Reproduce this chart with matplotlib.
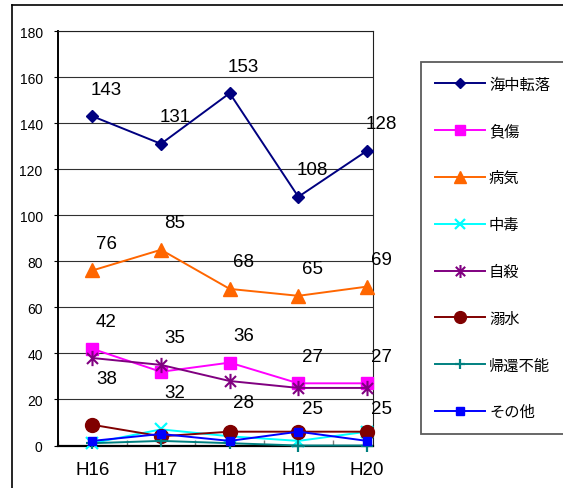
import matplotlib
matplotlib.use("Agg")
import matplotlib.pyplot as plt
from matplotlib.path import Path
from matplotlib.lines import Line2D

plt.rcParams['font.family'] = ['Liberation Sans', 'Noto Sans CJK JP', 'DejaVu Sans']

# ---- data ----
categories = ["H16", "H17", "H18", "H19", "H20"]
series_names = ["海中転落", "負傷", "病気", "中毒", "自殺", "溺水", "帰還不能", "その他"]
kaichu_tenraku = [143, 131, 153, 108, 128]
fusho = [42, 32, 36, 27, 27]
byoki = [76, 85, 68, 65, 69]
chudoku = [1, 7, 4, 2, 6]
jisatsu = [38, 35, 28, 25, 25]
dekisui = [9, 4, 6, 6, 6]
kikan_funo = [1, 2, 1, 0, 0]
sonota = [2, 5, 2, 6, 2]
y_ticks = [0, 20, 40, 60, 80, 100, 120, 140, 160, 180]

# ---- style ----
star = Path([(0, -1), (0, 1), (-0.72, -0.72), (0.72, 0.72), (-0.72, 0.72), (0.72, -0.72)],
            [Path.MOVETO, Path.LINETO, Path.MOVETO, Path.LINETO, Path.MOVETO, Path.LINETO])
styles = [
    dict(color="#000080", marker="D", ms=6.5),
    dict(color="#FF00FF", marker="s", ms=9),
    dict(color="#FF6600", marker="^", ms=9.5),
    dict(color="#00FFFF", marker="x", ms=8.5, mew=1.6),
    dict(color="#800080", marker=star, ms=11, mfc="none", mew=1.5),
    dict(color="#800000", marker="o", ms=10),
    dict(color="#008080", marker="+", ms=9, mew=1.6),
    dict(color="#0000FF", marker="s", ms=6),
]
# label placement per labelled series: 1 = above, -1 = below
label_pos = {
    0: [1, 1, 1, 1, 1],
    2: [1, 1, 1, 1, 1],
    1: [1, -1, 1, 1, 1],
    4: [-1, 1, -1, -1, -1],
}

W, H = 563, 489
fig = plt.figure(figsize=(W / 100, H / 100), dpi=100)
ax = fig.add_axes([58 / W, 1 - 446.5 / H, (373 - 58) / W, (446.5 - 32) / H])

all_series = [kaichu_tenraku, fusho, byoki, chudoku, jisatsu, dekisui, kikan_funo, sonota]
x = list(range(len(categories)))
handles = []
for i, (name, vals, st) in enumerate(zip(series_names, all_series, styles)):
    st = dict(st)
    color = st.pop("color")
    kw = dict(mfc=color, mec=color)
    kw.update(st)
    h, = ax.plot(x, vals, color=color, lw=1.4, label=name, zorder=3 + i, clip_on=False, **kw)
    handles.append(h)
    if i in label_pos:
        for xi, v, p in zip(x, vals, label_pos[i]):
            dy = 27 if p > 0 else -21
            ax.annotate(str(v), (xi, v), xytext=(14, dy), textcoords="offset pixels",
                        ha="center", va="center", fontsize=13.5, color="black", zorder=20)

ax.set_xlim(-0.5, 4.087)
ax.set_ylim(0, 180)
ax.set_yticks(y_ticks)
ax.tick_params(axis="y", direction="out", length=3, width=0.8, pad=8, labelsize=10)
ax.yaxis.grid(True, color="#303030", lw=0.8)
ax.set_axisbelow(True)

ax.set_xticks([-0.5, 0.5, 1.5, 2.5, 3.5])
ax.set_xticklabels([])
ax.tick_params(axis="x", which="major", direction="in", length=4.5, width=1, color="#808080")
ax.set_xticks(x, minor=True)
ax.set_xticklabels(categories, minor=True)
ax.tick_params(axis="x", which="minor", length=0, pad=11, labelsize=13.5)

for s in ["top", "right"]:
    ax.spines[s].set_linewidth(0.8)
    ax.spines[s].set_color("#202020")
ax.spines["left"].set_linewidth(1.4)
ax.spines["bottom"].set_linewidth(1.6)

leg = fig.legend(handles=handles, loc="upper left",
                 bbox_to_anchor=(421 / W, 1 - 63 / H), bbox_transform=fig.transFigure,
                 borderaxespad=0, frameon=True, fancybox=False, edgecolor="#333333",
                 prop={"family": ["Noto Sans CJK JP", "DejaVu Sans"], "size": 11},
                 handlelength=3.3, handletextpad=0.25, labelspacing=1.95, borderpad=0.9,
                 markerscale=0.85)
leg.get_frame().set_linewidth(1.3)

# outer chart frame (left & top)
fig.add_artist(Line2D([12 / W, 12 / W], [0, 1 - 6 / H], color="black", lw=1.2,
                      transform=fig.transFigure))
fig.add_artist(Line2D([12 / W, 1], [1 - 6 / H, 1 - 6 / H], color="black", lw=1.2,
                      transform=fig.transFigure))

fig.savefig("out.png", dpi=100)
